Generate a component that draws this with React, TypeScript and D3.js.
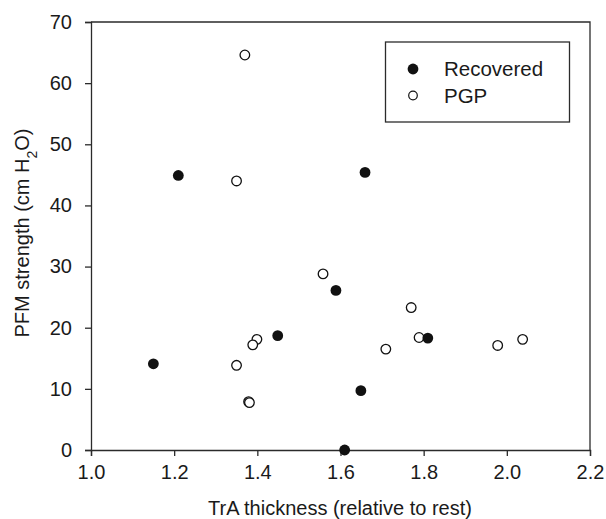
import React, { useEffect, useRef } from 'react';
import * as d3 from 'd3';

// Recovered group (filled markers)
const recoveredX = [1.21, 1.659, 1.589, 1.449, 1.15, 1.61, 1.81, 1.649];
const recoveredY = [44.9, 45.4, 26.1, 18.7, 14.1, 0, 18.3, 9.7];

// PGP group (open markers)
const pgpX = [1.37, 1.35, 1.558, 1.399, 1.389, 1.35, 1.379, 1.381, 1.77, 1.789, 1.709, 1.978, 2.038];
const pgpY = [64.6, 44.0, 28.8, 18.1, 17.2, 13.85, 7.9, 7.75, 23.3, 18.4, 16.5, 17.1, 18.1];

const xTicks = [1.0, 1.2, 1.4, 1.6, 1.8, 2.0, 2.2];
const yTicks = [0, 10, 20, 30, 40, 50, 60, 70];

const W = 606, H = 519;
const FONT = '"Liberation Sans", Arial, sans-serif';
const INK = '#2b2b2b';
const TXT = '#1a1a1a';

export default function App() {
	const svgRef = useRef<SVGSVGElement>(null);

	useEffect(() => {
		const svg = d3.select(svgRef.current);
		svg.selectAll('*').remove();

		const left = 91, right = 590, top = 22, bottom = 450;

		const x = d3.scaleLinear().domain([1.0, 2.2]).range([left, right]);
		const y = d3.scaleLinear().domain([0, 70]).range([bottom, top]);

		const g = svg.append('g');

		// frame top + right
		g.append('path')
			.attr('d', `M${left},${top}H${right}V${bottom}`)
			.attr('fill', 'none').attr('stroke', INK).attr('stroke-width', 1.3);

		const xAx = g.append('g').attr('transform', `translate(0,${bottom})`)
			.call(d3.axisBottom(x).tickValues(xTicks).tickSize(6).tickPadding(9).tickFormat(d3.format('.1f')));
		const yAx = g.append('g').attr('transform', `translate(${left},0)`)
			.call(d3.axisLeft(y).tickValues(yTicks).tickSize(6).tickPadding(13));

		[xAx, yAx].forEach(a => {
			a.select('.domain').attr('stroke', INK).attr('stroke-width', 1.3);
			a.selectAll('line').attr('stroke', INK).attr('stroke-width', 1.3);
			a.selectAll('text').attr('font-family', FONT).attr('font-size', 20).attr('fill', TXT);
		});

		const pgp = pgpX.map((v, i) => [v, pgpY[i]]);
		const rec = recoveredX.map((v, i) => [v, recoveredY[i]]);

		g.selectAll('.pgp').data(pgp).enter().append('circle')
			.attr('cx', d => x(d[0])).attr('cy', d => y(d[1])).attr('r', 4.8)
			.attr('fill', 'white').attr('stroke', '#111').attr('stroke-width', 1.3);

		g.selectAll('.rec').data(rec).enter().append('circle')
			.attr('cx', d => x(d[0])).attr('cy', d => y(d[1])).attr('r', 5.4)
			.attr('fill', '#111');

		// legend
		const lg = g.append('g');
		lg.append('rect').attr('x', 385.5).attr('y', 42).attr('width', 184).attr('height', 80)
			.attr('fill', 'white').attr('stroke', INK).attr('stroke-width', 1.3);
		lg.append('circle').attr('cx', 413).attr('cy', 69).attr('r', 5.4).attr('fill', '#111');
		lg.append('circle').attr('cx', 413).attr('cy', 95.5).attr('r', 4.3)
			.attr('fill', 'white').attr('stroke', '#111').attr('stroke-width', 1.2);
		lg.append('text').attr('x', 444).attr('y', 76).text('Recovered')
			.attr('font-family', FONT).attr('font-size', 20.5).attr('fill', TXT);
		lg.append('text').attr('x', 444).attr('y', 103).text('PGP')
			.attr('font-family', FONT).attr('font-size', 20.5).attr('fill', TXT);

		// axis titles
		g.append('text').attr('x', 340).attr('y', 515).attr('text-anchor', 'middle')
			.attr('font-family', FONT).attr('font-size', 20).attr('fill', TXT)
			.text('TrA thickness (relative to rest)');

		const yt = g.append('text').attr('transform', `translate(29,${233}) rotate(-90)`)
			.attr('text-anchor', 'middle').attr('font-family', FONT).attr('font-size', 20).attr('fill', TXT);
		yt.append('tspan').text('PFM strength (cm H');
		yt.append('tspan').attr('baseline-shift', 'sub').attr('font-size', 14).text('2');
		yt.append('tspan').text('O)');
	}, []);

	return (
		<svg ref={svgRef} width={W} height={H} style={{ position: 'absolute', left: 0, top: 0 }} />
	);
}
